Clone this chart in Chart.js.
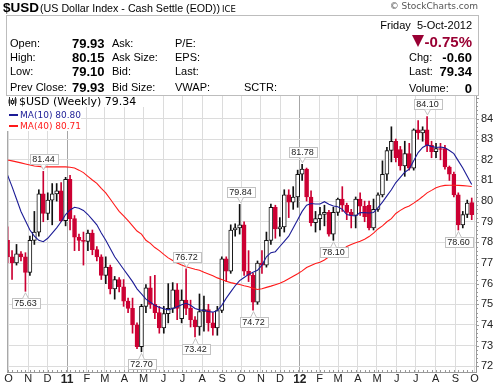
<!DOCTYPE html>
<html><head><meta charset="utf-8">
<script src="https://cdn.jsdelivr.net/npm/chart.js@4.4.0/dist/chart.umd.min.js"></script>
<style>
html,body{margin:0;padding:0;background:#fff;}
body{width:504px;height:387px;overflow:hidden;position:relative;font-family:'Liberation Sans',Arial,sans-serif;color:#000;}
#c{position:absolute;left:0;top:0;}
.t{position:absolute;white-space:nowrap;line-height:1;}
.l{font-size:11px;}
.v{font-size:13px;font-weight:bold;}
</style></head><body>
<canvas id="c" width="504" height="387"></canvas>

<div class="t" style="left:3px;top:1px;font-size:13.5px;font-weight:bold;">$USD</div>
<div class="t" style="left:40px;top:3px;font-size:10.7px;">(US Dollar Index - Cash Settle (EOD))</div>
<div class="t" style="left:222px;top:4.5px;font-size:8.5px;font-family:'DejaVu Sans';">ICE</div>
<div class="t" style="right:26px;top:2px;font-size:9px;font-family:'DejaVu Sans';color:#555;">© StockCharts.com</div>

<div style="position:absolute;left:6px;top:15px;width:473px;height:81px;box-sizing:border-box;border:1px solid #bdbdbd;background:#fff;"></div>

<div class="t l" style="left:10px;top:37.6px;">Open:</div>
<div class="t l" style="left:10px;top:51.6px;">High:</div>
<div class="t l" style="left:10px;top:65.6px;">Low:</div>
<div class="t l" style="left:10px;top:81.6px;">Prev Close:</div>
<div class="t v" style="left:72px;top:36.6px;">79.93</div>
<div class="t v" style="left:72px;top:50.6px;">80.15</div>
<div class="t v" style="left:72px;top:64.6px;">79.10</div>
<div class="t v" style="left:72px;top:80.6px;">79.93</div>
<div class="t l" style="left:112px;top:37.6px;">Ask:</div>
<div class="t l" style="left:112px;top:51.6px;">Ask Size:</div>
<div class="t l" style="left:112px;top:65.6px;">Bid:</div>
<div class="t l" style="left:112px;top:81.6px;">Bid Size:</div>
<div class="t l" style="left:175px;top:37.6px;">P/E:</div>
<div class="t l" style="left:175px;top:51.6px;">EPS:</div>
<div class="t l" style="left:175px;top:65.6px;">Last:</div>
<div class="t l" style="left:175px;top:81.6px;">VWAP:</div>
<div class="t l" style="left:244px;top:81.6px;">SCTR:</div>

<div class="t l" style="right:32px;top:19.6px;">Friday&nbsp;&nbsp;5-Oct-2012</div>
<div style="position:absolute;left:412px;top:35px;width:0;height:0;border-left:6px solid transparent;border-right:6px solid transparent;border-top:12px solid #990033;"></div>
<div class="t" style="right:32px;top:33.6px;font-size:15px;font-weight:bold;color:#990033;">-0.75%</div>
<div class="t l" style="left:409px;top:52px;">Chg:</div>
<div class="t v" style="right:32px;top:51px;">-0.60</div>
<div class="t l" style="left:409px;top:66.3px;">Last:</div>
<div class="t v" style="right:32px;top:65.3px;">79.34</div>
<div class="t l" style="left:409px;top:83px;">Volume:</div>
<div class="t v" style="right:32px;top:82px;">0</div>

<div style="position:absolute;left:7px;top:96px;width:137px;height:11px;background:#fff;"></div>
<div style="position:absolute;left:7px;top:107px;width:74px;height:24px;background:#fff;"></div>
<svg style="position:absolute;left:8px;top:97px;" width="9" height="9" viewBox="0 0 9 9">
  <line x1="1.5" y1="0" x2="1.5" y2="9" stroke="#333"/><rect x="0.5" y="2.5" width="2" height="4" fill="#333"/>
  <line x1="4.5" y1="1" x2="4.5" y2="8" stroke="#333"/><rect x="3.5" y="3.5" width="2" height="3" fill="#fff" stroke="#333"/>
  <line x1="7.5" y1="0" x2="7.5" y2="9" stroke="#333"/><rect x="6.5" y="1.5" width="2" height="5" fill="#333"/>
</svg>
<div class="t" style="left:19px;top:96px;font-size:11px;font-family:'DejaVu Sans';">$USD (Weekly) 79.34</div>
<div style="position:absolute;left:9px;top:114px;width:9px;height:2px;background:#1c1c96;"></div>
<div class="t" style="left:20px;top:110.6px;font-size:9px;font-family:'DejaVu Sans';color:#1c1c96;">MA(10) 80.80</div>
<div style="position:absolute;left:9px;top:125px;width:9px;height:2px;background:#ff1a1a;"></div>
<div class="t" style="left:20px;top:121.6px;font-size:9px;font-family:'DejaVu Sans';color:#ff1a1a;">MA(40) 80.71</div>

<script>
// Weekly bars, first week ending Fri 8-Oct-2010, last week ending Fri 5-Oct-2012
const firstWeekEnding = Date.UTC(2010, 9, 8);
const opens = [78.10,77.30,77.00,77.45,77.30,76.55,78.10,78.50,80.35,79.40,
80.05,80.35,80.50,79.05,81.05,79.15,78.25,78.10,78.05,78.45,
77.65,77.30,76.40,76.80,75.75,76.20,75.85,75.15,74.80,74.00,
72.95,74.90,75.80,75.00,74.60,73.85,74.55,74.80,75.70,74.30,
75.20,74.80,74.25,73.90,74.65,74.75,74.10,73.85,74.70,77.20,
76.60,78.60,78.70,78.85,76.60,76.40,75.10,77.00,76.90,78.10,
79.70,78.65,78.75,80.30,79.95,80.20,81.30,81.55,80.20,78.95,
79.15,79.35,79.45,78.40,79.45,80.10,79.80,79.45,79.30,80.10,
79.75,79.80,78.70,79.60,80.30,81.30,82.45,82.90,82.50,81.70,
82.30,81.60,83.45,83.30,83.45,82.70,82.40,82.55,82.55,81.65,
81.30,80.30,78.85,79.35,79.93];
const highs = [78.75,77.60,77.90,77.55,77.50,78.30,79.50,80.55,81.44,80.40,
80.85,80.85,80.90,81.15,81.25,79.30,78.40,78.50,78.60,78.60,
77.80,77.40,77.30,76.90,76.35,76.30,76.20,75.30,75.30,74.10,
75.00,75.95,76.35,76.40,74.90,74.90,76.00,76.05,76.00,75.70,
76.72,75.20,74.40,75.50,75.40,75.00,74.60,74.90,77.30,77.30,
78.85,78.90,79.84,79.00,77.60,76.50,77.10,77.60,78.50,79.85,
79.80,79.20,80.55,80.55,80.70,81.50,81.78,81.60,80.50,79.50,
79.70,79.80,79.55,79.70,80.15,80.70,79.90,79.60,80.20,80.40,
80.00,80.00,80.10,80.40,81.95,82.60,83.60,83.00,82.65,82.90,
82.80,83.50,83.90,83.60,84.10,82.90,82.80,82.80,82.70,81.70,
81.40,80.40,79.50,80.05,80.15];
const lows = [77.00,76.20,76.90,77.10,75.63,76.40,77.90,78.30,79.00,79.10,
78.85,80.00,79.00,78.80,78.60,77.60,77.60,76.90,77.60,77.40,
77.10,76.20,76.00,75.50,75.25,75.60,74.90,74.60,73.60,72.85,
72.70,74.60,74.80,74.30,73.60,73.60,74.10,74.60,74.25,74.10,
74.50,73.90,73.42,73.50,73.70,73.70,73.50,73.50,74.60,76.10,
76.50,78.30,78.40,76.40,76.10,74.72,75.00,76.50,76.80,77.90,
78.20,78.30,78.50,79.20,79.60,79.70,81.00,80.00,78.80,78.50,
78.60,78.80,78.30,78.10,79.30,79.50,79.10,78.70,78.70,79.30,
79.00,78.60,78.60,79.50,80.20,81.00,81.90,81.90,81.50,81.20,
81.50,81.50,83.00,82.90,82.40,82.10,82.10,82.00,81.55,81.00,
80.20,78.60,78.70,79.20,79.10];
const closes = [77.30,77.00,77.45,77.30,76.55,78.10,78.50,80.35,79.40,80.05,
80.35,80.50,79.05,81.05,79.15,78.25,78.10,78.05,78.45,77.65,
77.30,76.40,76.80,75.75,76.20,75.85,75.15,74.80,74.00,72.95,
74.90,75.80,75.00,74.60,73.85,74.55,74.80,75.70,74.80,75.20,
74.80,74.25,73.90,74.65,74.75,74.10,73.85,74.70,77.20,76.60,
78.60,78.70,78.85,76.60,76.40,75.10,77.00,76.90,78.10,79.70,
78.65,78.75,80.30,79.95,80.20,81.30,81.55,80.20,78.95,79.15,
79.35,79.45,78.40,79.45,80.10,79.80,79.45,79.30,80.10,79.75,
79.25,78.70,79.60,80.30,81.30,82.45,82.90,82.10,81.70,82.30,
81.60,83.45,83.30,83.45,82.70,82.40,82.55,82.50,81.65,81.30,
80.30,78.85,79.35,79.90,79.34];
// Moving average overlays
const ma10 = [81.26,80.70,80.10,79.50,79.05,78.60,78.30,78.10,78.03,78.20,
78.45,78.70,79.00,79.35,79.57,79.70,79.65,79.55,79.35,79.10,
78.85,78.45,78.10,77.70,77.30,77.00,76.70,76.40,76.10,75.75,
75.50,75.25,75.10,74.95,74.85,74.78,74.73,74.80,74.88,74.98,
75.05,74.95,74.80,74.73,74.70,74.65,74.62,74.70,74.95,75.30,
75.60,75.90,76.15,76.30,76.45,76.55,76.65,76.90,77.30,77.50,
77.55,77.80,78.05,78.30,78.70,79.10,79.50,79.80,79.88,79.86,
79.86,79.97,79.85,79.76,79.73,79.60,79.35,79.30,79.28,79.44,
79.44,79.42,79.45,79.68,79.95,80.25,80.55,80.90,81.15,81.40,
81.55,81.95,82.35,82.60,82.72,82.65,82.60,82.62,82.58,82.45,
82.30,81.95,81.60,81.20,80.80];
const ma40 = [81.99,81.95,81.90,81.85,81.80,81.75,81.70,81.68,81.66,81.66,
81.66,81.66,81.66,81.66,81.64,81.60,81.50,81.38,81.20,81.02,
80.86,80.62,80.40,80.10,79.80,79.50,79.28,79.05,78.80,78.55,
78.40,78.10,77.95,77.75,77.60,77.42,77.25,77.12,77.00,76.90,
76.82,76.76,76.70,76.65,76.55,76.47,76.38,76.28,76.20,76.12,
76.05,76.00,75.96,75.90,75.85,75.78,75.72,75.75,75.82,75.88,
75.95,76.02,76.12,76.24,76.36,76.48,76.62,76.78,76.88,76.98,
77.04,77.15,77.30,77.40,77.52,77.62,77.80,77.90,77.98,78.05,
78.15,78.28,78.45,78.65,78.80,79.00,79.15,79.40,79.55,79.68,
79.76,79.90,80.05,80.22,80.40,80.52,80.65,80.72,80.76,80.77,
80.77,80.76,80.75,80.73,80.71];
const peakIdx = [8, 40, 52, 66, 94];
const troughIdx = [4, 30, 42, 55, 73, 101];
const monthLabels = ['O','N','D','11','F','M','A','M','J','J','A','S','O','N','D','12','F','M','A','M','J','J','A','S','O'];
const yTickLabels = [72,73,74,75,76,77,78,79,80,81,82,83,84];

const RED = '#cc0033', BLACK = '#111111';
const FONT = "'Liberation Sans', Arial, sans-serif";
const GRID_SHIFT = 1.2; // month grid offset in weeks
const WEEK = 7 * 864e5;
const monthTicks = monthLabels.map((lab, k) => ({
  value: (Date.UTC(2010, 9 + k, 1) - firstWeekEnding) / WEEK + GRID_SHIFT,
  lab: lab, yr: /\d/.test(lab)
}));

const isDown = opens.map((o, i) => closes[i] < o);
const idx = closes.map((c, i) => i);

const labelPlugin = {
  id: 'hl',
  afterDatasetsDraw(chart) {
    const ctx = chart.ctx, x = chart.scales.x, y = chart.scales.y;
    ctx.save();
    ctx.font = '9px ' + FONT;
    ctx.textAlign = 'center'; ctx.textBaseline = 'middle';
    const draw = (i, v, up) => {
      const px = Math.round(x.getPixelForValue(i)) + 0.5;
      const py = y.getPixelForValue(v);
      const txt = v.toFixed(2);
      const w = Math.ceil(ctx.measureText(txt).width) + 5, h = 10;
      const bx = Math.round(px - w / 2) + 0.5;
      const by = up ? Math.round(py - 7 - h) + 0.5 : Math.round(py + 7) + 0.5;
      ctx.lineWidth = 1; ctx.strokeStyle = '#c2c2c2'; ctx.fillStyle = '#fff';
      ctx.fillRect(bx, by, w, h); ctx.strokeRect(bx, by, w, h);
      const edge = up ? by + h : by;
      const tip = up ? py - 1.5 : py + 1.5;
      ctx.beginPath(); ctx.moveTo(px - 3, edge); ctx.lineTo(px, tip); ctx.lineTo(px + 3, edge);
      ctx.fill(); ctx.stroke();
      ctx.fillStyle = '#222';
      ctx.fillText(txt, px, by + h / 2 + 0.5);
    };
    peakIdx.forEach(i => draw(i, highs[i], true));
    troughIdx.forEach(i => draw(i, lows[i], false));
    ctx.restore();
  }
};
const framePlugin = {
  id: 'frame',
  afterDraw(chart) {
    const ctx = chart.ctx, a = chart.chartArea, x = chart.scales.x, y = chart.scales.y;
    ctx.save();
    ctx.strokeStyle = '#a8a8a8'; ctx.lineWidth = 1;
    ctx.beginPath(); ctx.moveTo(a.left + 0.5, a.top); ctx.lineTo(a.left + 0.5, a.bottom); ctx.stroke();
    ctx.strokeStyle = '#999';
    ctx.beginPath();
    idx.forEach(i => { const px = Math.round(x.getPixelForValue(i)) + 0.5; ctx.moveTo(px, a.bottom - 2); ctx.lineTo(px, a.bottom); });
    for (let k = 360; k <= 425; k++) {
      const py = Math.round(y.getPixelForValue(k / 5)) + 0.5;
      if (py < a.top) continue;
      ctx.moveTo(a.right, py); ctx.lineTo(a.right + (k % 5 ? 2 : 3), py);
    }
    ctx.stroke();
    ctx.restore();
  }
};

new Chart(document.getElementById('c'), {
  type: 'bar',
  data: {
    datasets: [
      { type: 'line', label: 'MA(10)', data: ma10.map((v, i) => ({ x: i, y: v })), borderColor: '#1c1c96', borderWidth: 1.1, pointRadius: 0, tension: 0, order: 0 },
      { type: 'line', label: 'MA(40)', data: ma40.map((v, i) => ({ x: i, y: v })), borderColor: '#ff1a1a', borderWidth: 1.1, pointRadius: 0, tension: 0, order: 0 },
      { label: 'range', data: highs.map((h, i) => ({ x: i, y: [lows[i], h] })), backgroundColor: isDown.map(d => d ? RED : BLACK), borderWidth: 0, barThickness: 1, grouped: false, order: 2 },
      { label: 'body', data: opens.map((o, i) => ({ x: i, y: [o, closes[i]] })), backgroundColor: isDown.map(d => d ? RED : '#ffffff'), borderColor: isDown.map(d => d ? RED : BLACK), borderWidth: 1, borderSkipped: false, barThickness: 4, grouped: false, order: 1 }
    ]
  },
  options: {
    responsive: false, animation: false,
    layout: { padding: { left: 7, top: 95, right: 0, bottom: 0 } },
    plugins: { legend: { display: false }, tooltip: { enabled: false } },
    scales: {
      x: {
        type: 'linear', min: -0.13, max: 104.96, offset: false, position: 'bottom',
        grid: { offset: false, drawTicks: false, color: c => (c.tick && c.tick.yr) ? '#a6a6a6' : '#dcdcdc' },
        border: { display: true, color: '#9a9a9a' },
        afterBuildTicks: s => { s.ticks = monthTicks.map(t => ({ value: t.value, lab: t.lab, yr: t.yr })); },
        ticks: {
          autoSkip: false, maxRotation: 0, minRotation: 0, padding: 0, color: '#222',
          font: c => (c.tick && c.tick.yr) ? { family: FONT, size: 12, weight: 'bold' } : { family: FONT, size: 11 },
          callback: (v, i, t) => t[i].lab
        },
        afterFit: s => { s.height = 15; }
      },
      y: {
        type: 'linear', position: 'right', min: 71.72, max: 85.14,
        grid: { drawTicks: false, color: '#dcdcdc' },
        border: { display: true, color: '#9a9a9a' },
        afterBuildTicks: s => { s.ticks = yTickLabels.map(v => ({ value: v })); },
        ticks: { padding: 5, color: '#222', font: { family: FONT, size: 11 }, callback: v => String(v) },
        afterFit: s => { s.width = 28; }
      }
    }
  },
  plugins: [labelPlugin, framePlugin]
});
</script>
</body></html>
